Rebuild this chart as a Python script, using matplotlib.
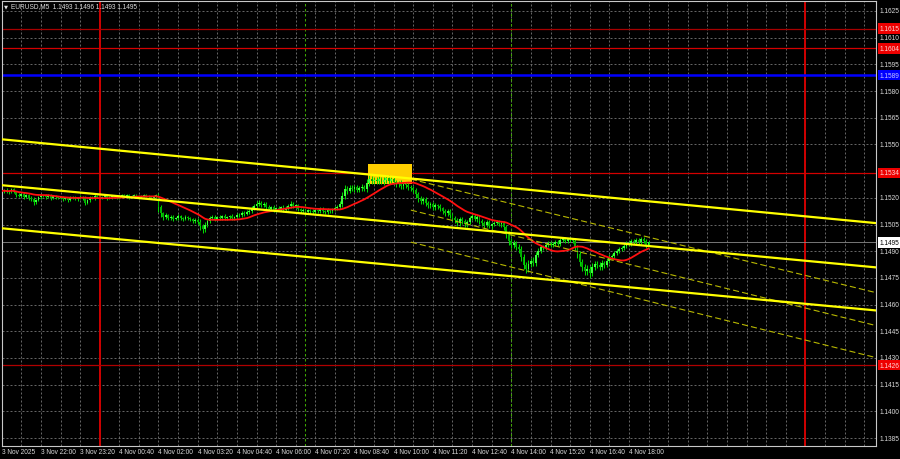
import numpy as np
import pandas as pd
import matplotlib
matplotlib.use("Agg")
import matplotlib.pyplot as plt
from matplotlib.patches import Rectangle

FONT = ["Liberation Sans", "DejaVu Sans"]
FS = 4.7
TXT = "#dcdcdc"

# ---------------- data ----------------
title_symbol = "EURUSD,M5  1.1493 1.1496 1.1493 1.1495"

# time labels every 16 M5 bars, bar 0 = 3 Nov 20:40
time_labels = ["3 Nov 2025", "3 Nov 22:00", "3 Nov 23:20", "4 Nov 00:40", "4 Nov 02:00",
               "4 Nov 03:20", "4 Nov 04:40", "4 Nov 06:00", "4 Nov 07:20", "4 Nov 08:40",
               "4 Nov 10:00", "4 Nov 11:20", "4 Nov 12:40", "4 Nov 14:00", "4 Nov 15:20",
               "4 Nov 16:40", "4 Nov 18:00"]
label_bars = [0, 16, 32, 48, 64, 80, 96, 112, 128, 144, 160, 176, 192, 208, 224, 240, 256]

first_open = 1.15235
closes = [
    1.15238, 1.15243, 1.15232, 1.15238, 1.15249, 1.15232,
    1.15215, 1.15210, 1.15221, 1.15204, 1.15215, 1.15199, 1.15193,
    1.15176, 1.15187, 1.15204, 1.15210,
    1.15210, 1.15204, 1.15215, 1.15199, 1.15210, 1.15204, 1.15199, 1.15204,
    1.15193, 1.15199, 1.15187, 1.15199, 1.15204, 1.15193, 1.15199, 1.15204,
    1.15199, 1.15170, 1.15187, 1.15204, 1.15199, 1.15210, 1.15204, 1.15199,
    1.15204, 1.15210, 1.15199, 1.15204, 1.15210, 1.15204, 1.15210, 1.15204,
    1.15215, 1.15210, 1.15215, 1.15204, 1.15210, 1.15215, 1.15210, 1.15204,
    1.15210, 1.15215, 1.15210, 1.15204, 1.15199, 1.15210, 1.15215,
    1.15148,
    1.15114, 1.15092, 1.15103, 1.15086,
    1.15092, 1.15081, 1.15086, 1.15097, 1.15086, 1.15081, 1.15092, 1.15086,
    1.15081, 1.15069, 1.15075, 1.15064,
    1.15041, 1.15025, 1.15047, 1.15069,
    1.15086, 1.15092, 1.15081, 1.15092,
    1.15086, 1.15097, 1.15086, 1.15092, 1.15097, 1.15086, 1.15092, 1.15103,
    1.15103, 1.15114, 1.15109, 1.15120,
    1.15126, 1.15142, 1.15154, 1.15165,
    1.15170, 1.15159, 1.15165, 1.15148,
    1.15137, 1.15148, 1.15131, 1.15142, 1.15137, 1.15148, 1.15131, 1.15142,
    1.15154, 1.15165, 1.15154, 1.15159,
    1.15137, 1.15126, 1.15131, 1.15120, 1.15131, 1.15126, 1.15120, 1.15131,
    1.15126, 1.15137, 1.15126, 1.15120, 1.15131, 1.15126, 1.15137, 1.15142,
    1.15148, 1.15165, 1.15210,
    1.15249, 1.15238, 1.15255,
    1.15249, 1.15260, 1.15243, 1.15255, 1.15260, 1.15249,
    1.15283, 1.15305, 1.15294, 1.15300,
    1.15294, 1.15305, 1.15289, 1.15300, 1.15311, 1.15294, 1.15305, 1.15289,
    1.15277, 1.15283, 1.15266, 1.15277, 1.15272, 1.15260,
    1.15255, 1.15243,
    1.15221, 1.15199, 1.15182, 1.15193,
    1.15170, 1.15159, 1.15165, 1.15148, 1.15159, 1.15154,
    1.15142, 1.15126, 1.15114, 1.15126,
    1.15103, 1.15086, 1.15075, 1.15058, 1.15081, 1.15069, 1.15052, 1.15064,
    1.15086, 1.15097, 1.15081, 1.15092,
    1.15069, 1.15058, 1.15047, 1.15064, 1.15041, 1.15052,
    1.15058, 1.15064, 1.15052,
    1.15058, 1.15036, 1.14996,
    1.14957, 1.14934, 1.14946,
    1.14923, 1.14912,
    1.14867, 1.14822, 1.14800,
    1.14828, 1.14845, 1.14833,
    1.14878, 1.14901, 1.14923, 1.14918,
    1.14934, 1.14946, 1.14934, 1.14940, 1.14951, 1.14940,
    1.14963, 1.14968, 1.14957, 1.14968, 1.14963,
    1.14957, 1.14923, 1.14884,
    1.14839, 1.14811, 1.14789,
    1.14800, 1.14777, 1.14811,
    1.14828, 1.14822, 1.14811, 1.14833,
    1.14822, 1.14845, 1.14867,
    1.14873, 1.14890, 1.14901,
    1.14912, 1.14918, 1.14929,
    1.14946, 1.14940, 1.14957, 1.14951,
    1.14963, 1.14951, 1.14968, 1.14957, 1.14930, 1.14950,
]

# wick lengths in points (0.00001)
wick_up_pts = [
    8, 6, 10, 7, 9, 5, 8, 11, 6, 9, 7, 8, 10,
    12, 9, 7, 6, 8, 10, 7, 9, 6, 8, 7, 9,
    6, 8, 7, 9, 6, 8, 7, 10, 7, 9, 8, 6, 7, 9, 8, 7,
    7, 8, 6, 9, 7, 8, 6, 7, 9, 8, 7, 6, 8, 7, 9, 6, 8, 7, 9, 8, 7, 6, 8,
    10, 14, 9, 12, 8, 10, 9, 7, 11, 8, 9, 10, 8, 9, 7, 10, 9,
    15, 12, 18, 14, 11, 9, 10, 8, 9, 7, 10, 8, 9, 11, 8, 10, 9, 12, 10, 11,
    12, 14, 13, 15, 16, 12, 10, 9, 11, 8, 10, 9, 12, 8, 10, 11, 13, 15, 10, 9,
    9, 8, 10, 7, 9, 8, 10, 9, 8, 11, 9, 8, 10, 9, 8, 12,
    14, 20, 25, 22, 18, 16, 15, 14, 12, 13, 16, 14, 22, 25, 18, 16,
    15, 18, 14, 16, 20, 15, 17, 14, 13, 12, 15, 11, 12, 14, 10, 9,
    10, 12, 14, 11, 10, 12, 9, 11, 10, 9, 10, 8, 9, 10,
    12, 10, 11, 9, 13, 10, 12, 11, 14, 12, 10, 11, 9, 10, 12, 11, 10, 9, 11, 10, 9,
    10, 12, 14, 16, 18, 15, 14, 16, 15, 18, 20, 22, 18, 20, 16, 15, 14, 12,
    12, 10, 11, 9, 12, 10, 11, 12, 10, 9, 11, 10, 12, 14,
    15, 18, 16, 20, 18, 22, 16, 15, 17, 18, 14, 16, 15, 14, 12, 13,
    12, 11, 13, 10, 12, 14, 11, 12, 10, 11, 13, 10, 10,
]
wick_dn_pts = [
    7, 9, 6, 8, 10, 7, 9, 6, 8, 10, 7, 9, 8,
    14, 8, 7, 9, 6, 8, 7, 10, 6, 9, 8, 7,
    8, 7, 9, 6, 8, 7, 10, 8, 9, 12, 7, 8, 6, 9, 7, 8,
    8, 7, 9, 6, 8, 7, 9, 8, 6, 7, 9, 8, 7, 6, 8, 9, 7, 8, 6, 9, 8, 7, 9,
    25, 22, 15, 12, 10, 9, 11, 8, 10, 9, 12, 8, 10, 11, 9, 12, 10,
    20, 25, 18, 12, 10, 9, 11, 8, 10, 9, 8, 10, 9, 8, 10, 9, 8, 9, 10, 8,
    9, 10, 8, 11, 9, 10, 12, 9, 10, 11, 9, 10, 8, 11, 9, 10, 9, 11, 10, 12,
    10, 12, 9, 11, 10, 9, 12, 10, 9, 11, 10, 9, 11, 10, 9, 10,
    10, 12, 14, 16, 15, 13, 12, 14, 13, 12, 14, 13, 18, 16, 14, 15,
    14, 16, 13, 15, 14, 17, 15, 14, 16, 15, 18, 14, 16, 15, 17, 18,
    20, 22, 18, 16, 15, 17, 14, 16, 15, 14, 16, 18, 15, 14,
    15, 14, 16, 18, 14, 15, 17, 14, 13, 12, 14, 15, 16, 14, 17, 13, 12, 14, 11, 12, 13,
    14, 18, 22, 20, 18, 16, 18, 20, 24, 22, 25, 18, 16, 15, 14, 12, 13, 12,
    11, 10, 12, 9, 10, 11, 9, 10, 11, 9, 10, 12, 16, 20,
    20, 22, 24, 20, 26, 18, 16, 18, 17, 15, 14, 13, 12, 11, 12, 10,
    10, 11, 9, 10, 11, 12, 10, 9, 10, 11, 9, 10, 0,
]
ma_period = 20

price_ticks = [1.1625, 1.1610, 1.1595, 1.1580, 1.1565, 1.1550, 1.1520, 1.1505,
               1.1490, 1.1475, 1.1460, 1.1445, 1.1430, 1.1415, 1.1400, 1.1385]
red_levels = [1.1615, 1.1604, 1.1534, 1.1426]
red_level_colors = ["#a80000", "#d40000", "#d40000", "#b00000"]
blue_level = 1.1589
last_price = 1.1495

day_separator_bars = [40, 328]      # 4 Nov 00:00, 5 Nov 00:00
session_bars = [124, 208]           # 07:00, 14:00
grid_bars = list(range(8, 360, 8))

box_bars = (149.5, 167.5)
box_prices = (1.15278, 1.15390)

solid_trend = [((0, 1.15529), (350, 1.15067)),
               ((0, 1.15271), (350, 1.14818)),
               ((0, 1.15029), (350, 1.14576))]
dashed_trend = [((167, 1.15305), (356, 1.14670)),
                ((167, 1.15131), (356, 1.14485)),
                ((167, 1.14951), (356, 1.14305))]

# ---------------- figure ----------------
W, H = 900, 460
fig = plt.figure(figsize=(W / 100, H / 100), dpi=100, facecolor="black")
L, R, T, B = 2, 876, 2, 447
ax = fig.add_axes([L / W, (H - B) / H, (R - L) / W, (B - T) / H])
ax.set_facecolor("black")

bar_px = 2.45
bar0_px = 1.7
ax.set_xlim((L - bar0_px) / bar_px, (R - bar0_px) / bar_px)
p_per_px = 0.0000562
p_top = 1.1625 + (12 - T) * p_per_px
p_bot = 1.1625 - (B - 12) * p_per_px
ax.set_ylim(p_bot, p_top)

for s in ax.spines.values():
    s.set_color("#c8c8c8")
    s.set_linewidth(0.8)
ax.set_xticks([])
ax.set_yticks([])

grid_kw = dict(color="#787878", lw=0.6, ls=(0, (2.4, 2.4)), zorder=0.5)
for p in price_ticks:
    ax.axhline(p, **grid_kw)
for b in grid_bars:
    ax.axvline(b, **grid_kw)

for b in session_bars:
    ax.axvline(b, color="#3fa800", lw=0.75, ls=(0, (2.4, 2.4)), zorder=0.6)
for b in day_separator_bars:
    ax.axvline(b, color="#d00000", lw=1.4, zorder=1)

for p, c in zip(red_levels, red_level_colors):
    ax.axhline(p, color=c, lw=0.9, zorder=1)
ax.axhline(blue_level, color="#0000ff", lw=1.8, zorder=1)
ax.axhline(last_price, color="#8a8a8a", lw=0.6, zorder=1.2)

ax.add_patch(Rectangle((box_bars[0], box_prices[0]), box_bars[1] - box_bars[0],
                       box_prices[1] - box_prices[0], facecolor="#ffcf00",
                       edgecolor="none", zorder=1.5))

# candles
c = np.array(closes)
o = np.concatenate([[first_open], c[:-1]])
hi = np.maximum(o, c) + np.array(wick_up_pts) * 1e-5
lo = np.minimum(o, c) - np.array(wick_dn_pts) * 1e-5
x = np.arange(len(c))
bull = c >= o
ax.vlines(x, lo, hi, color="#00d800", lw=0.75, zorder=2)
body = np.maximum(np.abs(c - o), 0.00003)
ax.bar(x[bull], body[bull], bottom=np.minimum(o, c)[bull], width=0.75,
       color="#3cff3c", zorder=2.1, linewidth=0)
ax.bar(x[~bull], body[~bull], bottom=np.minimum(o, c)[~bull], width=0.75,
       color="#00b000", zorder=2.1, linewidth=0)

ma = pd.Series(c).rolling(ma_period, min_periods=1).mean()
ax.plot(x, ma, color="#ff1010", lw=1.3, zorder=3)

for (p1, p2) in solid_trend:
    ax.axline(p1, p2, color="#ffff00", lw=1.6, zorder=4)
for (p1, p2) in dashed_trend:
    ax.plot([p1[0], p2[0]], [p1[1], p2[1]], color="#b8b800", lw=0.8,
            ls=(0, (5.5, 2.8)), zorder=3.8)

# ---------------- texts ----------------
ytr = ax.get_yaxis_transform()
xtr = ax.get_xaxis_transform()
lab_x = 1 + 3.5 / (R - L)
for p in price_ticks:
    ax.text(lab_x, p, f"{p:.4f}", transform=ytr, ha="left", va="center",
            fontsize=FS, color=TXT, family=FONT, clip_on=False)


def price_box(p, fc, tc):
    ax.text(lab_x, p, f"{p:.4f}", transform=ytr, ha="left", va="center",
            fontsize=FS, color=tc, family=FONT, clip_on=False, zorder=6,
            bbox=dict(boxstyle="square,pad=0.28", fc=fc, ec="none"))


for p in red_levels:
    price_box(p, "#ee0000", "#ffd8d8")
price_box(blue_level, "#0000ff", "#c8c8ff")
price_box(last_price, "#ffffff", "#000000")

lab_y = -6.0 / (B - T)
for b, lab in zip(label_bars, time_labels):
    ax.text(b, lab_y, lab, transform=xtr, ha="left", va="center",
            fontsize=FS, color=TXT, family=FONT, clip_on=False)

fig.text(4 / W, 1 - 6.5 / H, "\u25bc", fontsize=3.8, color="#e0e0e0",
         family=["DejaVu Sans"], ha="left", va="center")
fig.text(11 / W, 1 - 6.5 / H, title_symbol, fontsize=FS, color="#e0e0e0",
         family=FONT, ha="left", va="center")

fig.savefig("out.png", dpi=100, facecolor="black")
